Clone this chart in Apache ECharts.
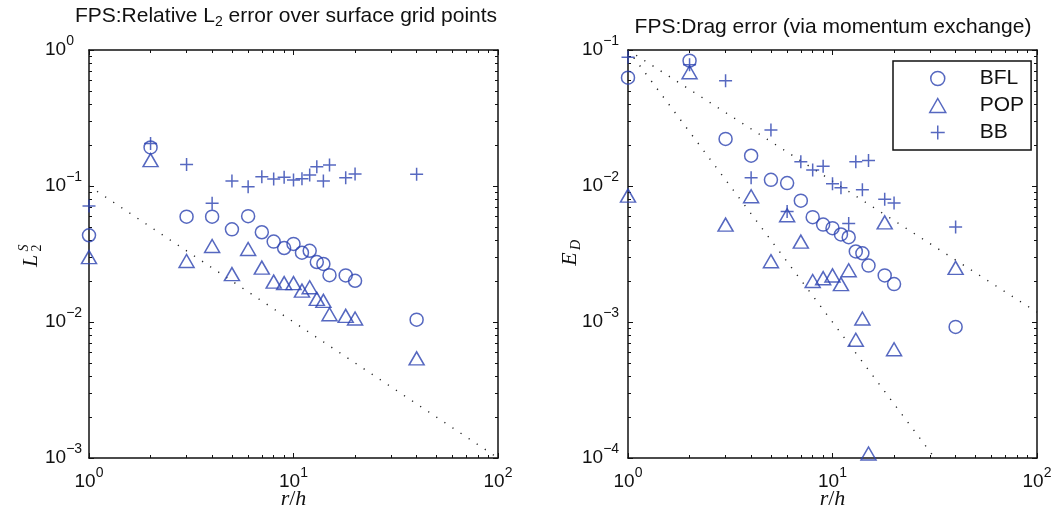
<!DOCTYPE html>
<html><head><meta charset="utf-8">
<script src="https://cdn.jsdelivr.net/npm/echarts@6/dist/echarts.min.js"></script>
<style>html,body{margin:0;padding:0;background:#fff}#c{width:1059px;height:522px}</style>
</head><body><div id="c"></div>
<script>
// ---- data ----
const rOverH   = [1, 2, 3, 4, 5, 6, 7, 8, 9, 10, 11, 12, 13, 14, 15, 18, 20, 40];
const l2BFL    = [0.0434, 0.192, 0.0595, 0.0595, 0.048, 0.060, 0.0457, 0.039, 0.035, 0.0375, 0.0323, 0.0334, 0.0276, 0.0267, 0.0221, 0.022, 0.0201, 0.0104];
const l2POP    = [0.030, 0.155, 0.0281, 0.0362, 0.0225, 0.0344, 0.0251, 0.0198, 0.0193, 0.0193, 0.0170, 0.0180, 0.0148, 0.0143, 0.0114, 0.0111, 0.0106, 0.0054];
const l2BB     = [0.0713, 0.205, 0.144, 0.0746, 0.109, 0.0988, 0.117, 0.1125, 0.116, 0.1107, 0.113, 0.1205, 0.1387, 0.109, 0.1427, 0.115, 0.1225, 0.122];
const dragBFL  = [0.0626, 0.0835, 0.0222, 0.0167, 0.0111, 0.0105, 0.0078, 0.0059, 0.0052, 0.0049, 0.0044, 0.0042, 0.0033, 0.0032, 0.0026, 0.0022, 0.0019, 0.00092];
const dragPOP  = [0.0085, 0.0686, 0.0052, 0.0084, 0.0028, 0.0061, 0.0039, 0.0020, 0.0021, 0.0022, 0.0019, 0.0024, 0.00074, 0.00106, 0.000108, 0.0054, 0.00063, 0.0025];
const dragBB   = [0.0884, 0.078, 0.0594, 0.0115, 0.0258, 0.0065, 0.0151, 0.0131, 0.0140, 0.0104, 0.0097, 0.0053, 0.0151, 0.0094, 0.0154, 0.0080, 0.0075, 0.0050];
const refL2    = [[1, 0.1], [100, 0.001]];
const refDrag1 = [[1, 0.1], [100, 0.00118]];
const refDrag2 = [[1, 0.1], [31.6, 0.0001]];
const xRange   = [1, 100];
const yRangeL2 = [0.001, 1];
const yRangeDrag = [0.0001, 0.1];
const seriesNames = ['BFL', 'POP', 'BB'];
const titleL2  = 'FPS:Relative L';
const titleL2b = ' error over surface grid points';
const titleDrag = 'FPS:Drag error (via momentum exchange)';

// ---- styles ----
const BLUE = '#2c42b0';
const INK = '#111';
const SANS = '"Liberation Sans", Arial, Helvetica, sans-serif';
const SERIF = '"Liberation Serif", "DejaVu Serif", serif';
const PLUS = 'path://M6,0L6,12M0,6L12,6';

function supLabel(v) {
  const e = Math.round(Math.log10(v));
  return '{b|10}{s|' + (e < 0 ? '\u2212' + (-e) : e) + '}';
}
const labelRich = {
  b: { fontSize: 19, fontFamily: SANS, color: INK, lineHeight: 22 },
  s: { fontSize: 14, fontFamily: SANS, color: INK, lineHeight: 14, padding: [0, 0, 17, 0] }
};
const lineSt = { color: INK, width: 1.5 };
const tickSt = { color: INK, width: 1 };

function xAxesFor(g) {
  const base = {
    type: 'log', logBase: 10, gridIndex: g, min: xRange[0], max: xRange[1],
    axisLine: { show: true, lineStyle: lineSt },
    axisTick: { show: true, inside: true, length: 5, lineStyle: tickSt },
    minorTick: { show: true, splitNumber: 9, length: 3, lineStyle: tickSt },
    splitLine: { show: false }, minorSplitLine: { show: false }
  };
  return [
    Object.assign({}, base, {
      position: 'bottom',
      axisLabel: { show: true, formatter: supLabel, rich: labelRich, margin: 13 },
      name: '{i|r}{n|/}{i|h}', nameLocation: 'middle', nameGap: 30, nameMoveOverlap: false,
      nameTextStyle: { verticalAlign: 'top', rich: {
        i: { fontFamily: SERIF, fontStyle: 'italic', fontSize: 22, color: INK },
        n: { fontFamily: SERIF, fontSize: 22, color: INK } } }
    }),
    Object.assign({}, base, { position: 'top', axisLabel: { show: false } })
  ];
}
function yAxesFor(g, range, margin) {
  const base = {
    type: 'log', logBase: 10, gridIndex: g, min: range[0], max: range[1],
    axisLine: { show: true, lineStyle: lineSt },
    axisTick: { show: true, inside: true, length: 5, lineStyle: tickSt },
    minorTick: { show: true, splitNumber: 9, length: 3, lineStyle: tickSt },
    splitLine: { show: false }, minorSplitLine: { show: false }
  };
  return [
    Object.assign({}, base, { position: 'left',
      axisLabel: { show: true, formatter: supLabel, rich: labelRich, margin: margin, align: 'left' } }),
    Object.assign({}, base, { position: 'right', axisLabel: { show: false } })
  ];
}

function scatter(name, xi, yi, vals, symbol, size, keep) {
  return {
    type: 'scatter', name: name, xAxisIndex: xi, yAxisIndex: yi,
    data: rOverH.map((x, i) => [x, vals[i]]),
    symbol: symbol, symbolSize: size, symbolKeepAspect: keep, clip: false,
    itemStyle: { color: 'transparent', borderColor: BLUE, borderWidth: 1.5 },
    emphasis: { disabled: true }, silent: true, z: 3, animation: false
  };
}
function refLine(data, xi, yi) {
  return {
    type: 'line', data: data, xAxisIndex: xi, yAxisIndex: yi, symbol: 'none', showSymbol: false,
    lineStyle: { color: '#222', width: 1.4, type: [1.2, 8.5] }, silent: true, z: 2, animation: false
  };
}

const chart = echarts.init(document.getElementById('c'), null, { renderer: 'canvas' });
chart.setOption({
  animation: false,
  backgroundColor: '#fff',
  grid: [
    { left: 89, top: 50, width: 409, height: 408, outerBoundsMode: 'none', containLabel: false },
    { left: 628, top: 50, width: 409, height: 408, outerBoundsMode: 'none', containLabel: false }
  ],
  xAxis: [].concat(xAxesFor(0), xAxesFor(1)),
  yAxis: [].concat(yAxesFor(0, yRangeL2, 44), yAxesFor(1, yRangeDrag, 46)),
  legend: {
    show: true, orient: 'vertical', left: 893, top: 61, padding: [7, 7, 7, 36],
    itemGap: 6, itemWidth: 16, itemHeight: 14,
    borderColor: INK, borderWidth: 1.5, backgroundColor: '#fff', selectedMode: false,
    textStyle: { fontSize: 21, fontFamily: SANS, color: INK, lineHeight: 20, padding: [0, 0, 0, 29] },
    itemStyle: { color: 'transparent', borderColor: BLUE, borderWidth: 1.5 },
    data: [
      { name: seriesNames[0], icon: 'circle' },
      { name: seriesNames[1], icon: 'triangle' },
      { name: seriesNames[2], icon: PLUS }
    ]
  },
  graphic: [
    { type: 'text', x: 286, y: 16, silent: true, style: {
        text: '{t|' + titleL2 + '}{s|2}{t|' + titleL2b + '}',
        align: 'center', verticalAlign: 'middle',
        rich: {
          t: { fontSize: 21, fontFamily: SANS, fill: INK, lineHeight: 24 },
          s: { fontSize: 14, fontFamily: SANS, fill: INK, lineHeight: 14, padding: [12, 0, 0, 0] }
        } } },
    { type: 'text', x: 833, y: 27, silent: true, style: {
        text: titleDrag, fontSize: 21, fontFamily: SANS, fill: INK, align: 'center', verticalAlign: 'middle' } },
    { type: 'group', x: 31, y: 255, rotation: Math.PI / 2, silent: true, children: [
        { type: 'text', x: -6, y: 0, style: { text: 'L', fontSize: 22, fontFamily: SERIF, fontStyle: 'italic', fill: INK, align: 'center', verticalAlign: 'middle' } },
        { type: 'text', x: 7, y: -7, style: { text: 'S', fontSize: 14, fontFamily: SERIF, fontStyle: 'italic', fill: INK, align: 'center', verticalAlign: 'middle' } },
        { type: 'text', x: 7, y: 6, style: { text: '2', fontSize: 14, fontFamily: SERIF, fill: INK, align: 'center', verticalAlign: 'middle' } }
    ] },
    { type: 'group', x: 570, y: 253, rotation: Math.PI / 2, silent: true, children: [
        { type: 'text', x: -6, y: 0, style: { text: 'E', fontSize: 22, fontFamily: SERIF, fontStyle: 'italic', fill: INK, align: 'center', verticalAlign: 'middle' } },
        { type: 'text', x: 8, y: 6, style: { text: 'D', fontSize: 14, fontFamily: SERIF, fontStyle: 'italic', fill: INK, align: 'center', verticalAlign: 'middle' } }
    ] }
  ],
  series: [
    refLine(refL2, 0, 0),
    refLine(refDrag1, 2, 2),
    refLine(refDrag2, 2, 2),
    scatter(seriesNames[0], 0, 0, l2BFL, 'circle', 13, true),
    scatter(seriesNames[1], 0, 0, l2POP, 'triangle', [15, 13], false),
    scatter(seriesNames[2], 0, 0, l2BB, PLUS, 13, true),
    scatter(seriesNames[0], 2, 2, dragBFL, 'circle', 13, true),
    scatter(seriesNames[1], 2, 2, dragPOP, 'triangle', [15, 13], false),
    scatter(seriesNames[2], 2, 2, dragBB, PLUS, 13, true)
  ]
});
</script>
</body></html>
